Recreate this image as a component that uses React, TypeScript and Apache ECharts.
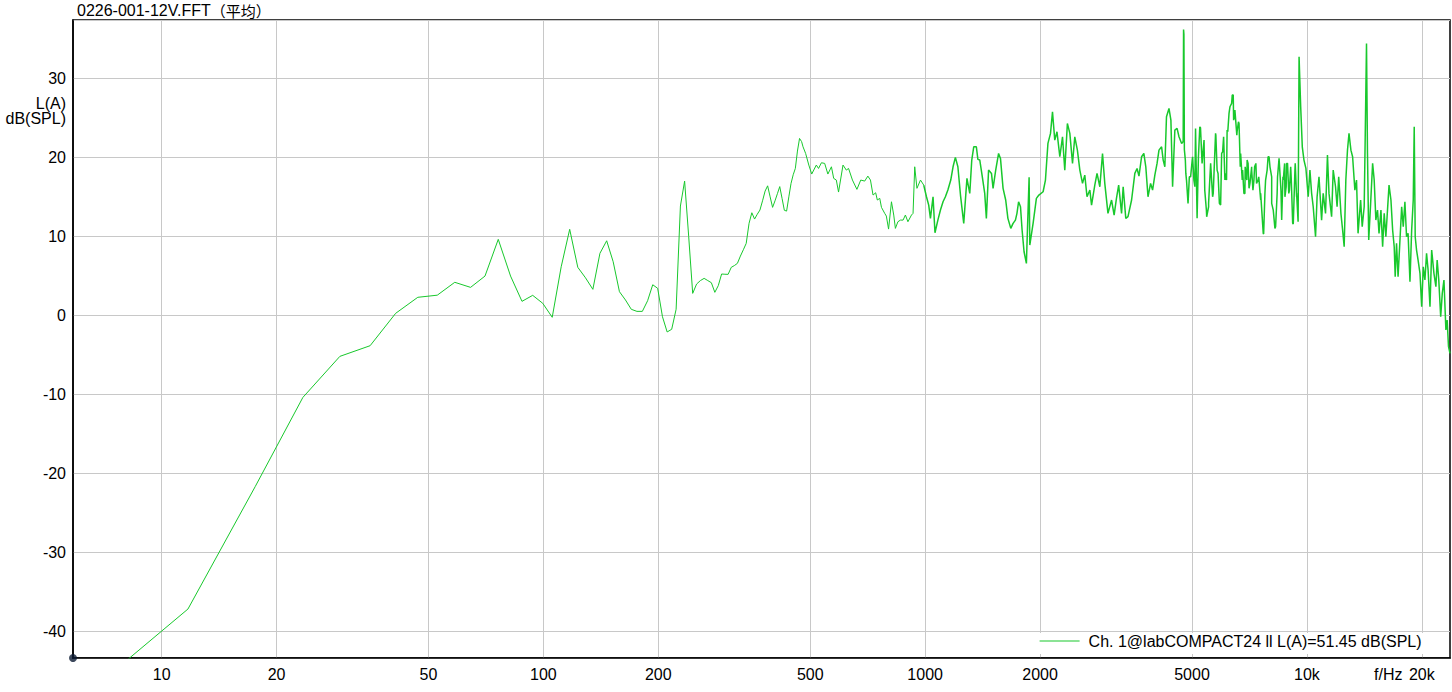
import React, { useEffect, useRef } from 'react';
import * as echarts from 'echarts';

const TITLE_MAIN = '0226-001-12V.FFT';
const TITLE_SUFFIX = '（平均）';
const SERIES_NAME = 'Ch. 1@labCOMPACT24 ll L(A)=51.45 dB(SPL)';
const Y_NAME = 'L(A)\ndB(SPL)';
const X_NAME = 'f/Hz';

const X_MIN = 5.859;
const X_MAX = 23703;
const Y_MIN = -43.4;
const Y_MAX = 37.4;

const xTickValues = [10, 20, 50, 100, 200, 500, 1000, 2000, 5000, 10000, 20000];
const xTickLabels = ['10', '20', '50', '100', '200', '500', '1000', '2000', '5000', '10k', '20k'];

// FFT bins below ~475 Hz
const lowFreqs = [5.86, 11.72, 17.58, 23.44, 29.3, 35.16, 41.02, 46.88, 52.73, 58.59, 64.45, 70.31, 76.17, 82.03, 87.89, 93.75, 99.61, 105.47, 111.33, 117.19, 123.05, 128.91, 134.77, 140.63, 146.48, 152.34, 158.2, 164.06, 169.92, 175.78, 181.64, 187.5, 193.36, 199.22, 205.08, 210.94, 216.8, 222.66, 228.52, 234.38, 240.23, 246.09, 251.95, 257.81, 263.67, 269.53, 275.39, 281.25, 287.11, 292.97, 298.83, 304.69, 310.55, 316.41, 322.27, 328.13, 333.98, 339.84, 345.7, 351.56, 357.42, 363.28, 369.14, 375.0, 380.86, 386.72, 392.58, 398.44, 404.3, 410.16, 416.02, 421.88, 427.73, 433.59, 439.45, 445.31, 451.17, 457.03, 462.89, 468.75, 474.61];
const lowLevels = [-49.4, -37.2, -21.7, -10.4, -5.2, -3.85, 0.25, 2.28, 2.55, 4.18, 3.54, 4.97, 9.62, 4.97, 1.77, 2.53, 1.52, -0.25, 6.15, 10.89, 6.08, 4.75, 3.29, 7.85, 9.44, 6.78, 2.99, 1.94, 0.76, 0.5, 0.5, 1.85, 3.87, 3.42, -0.18, -2.11, -1.77, 0.76, 13.84, 17.0, 9.95, 2.78, 3.96, 4.4, 4.68, 4.4, 4.13, 2.91, 3.75, 5.23, 5.2, 5.19, 6.08, 6.3, 6.58, 7.5, 8.3, 9.11, 11.65, 12.99, 12.19, 12.8, 13.33, 14.5, 15.73, 16.4, 15.0, 13.67, 14.5, 15.4, 16.3, 14.8, 13.3, 13.2, 15.0, 16.7, 17.8, 18.6, 20.8, 22.4, 22.0];

// 475 Hz – 1 kHz
const midFreqs = [478.7, 486.3, 495.7, 504.5, 518.7, 525.7, 534.9, 545.5, 556.1, 568.2, 576.0, 585.2, 593.1, 609.3, 621.6, 630.0, 645.0, 662.6, 678.1, 694.4, 707.8, 719.0, 730.3, 742.0, 749.4, 760.5, 768.3, 783.5, 791.3, 802.0, 816.1, 827.4, 835.7, 848.4, 861.7, 875.3, 887.7, 901.2, 920.8, 929.6, 939.0, 951.7, 972.2, 991.5];
const midLevels = [21.34, 20.5, 19.03, 17.89, 19.03, 18.6, 19.32, 19.24, 17.89, 18.81, 17.34, 17.13, 15.61, 19.03, 18.39, 18.6, 17.13, 15.95, 17.13, 17.0, 17.63, 17.13, 15.23, 15.52, 14.6, 14.81, 13.67, 12.91, 12.57, 10.92, 14.38, 12.7, 11.01, 11.85, 12.06, 12.06, 12.7, 11.85, 12.7, 12.91, 18.81, 16.08, 17.13, 16.49];

// 1 kHz – 5 kHz
const upperFreqs = [1007.9, 1021.7, 1032.4, 1048.7, 1061.1, 1079.7, 1096.7, 1113.9, 1129.8, 1146.9, 1167.0, 1183.2, 1200.0, 1218.2, 1237.4, 1262.0, 1286.7, 1308.8, 1324.6, 1340.5, 1361.8, 1374.5, 1390.2, 1409.5, 1432.3, 1446.5, 1466.0, 1491.9, 1506.2, 1530.3, 1557.2, 1575.1, 1599.9, 1625.4, 1647.2, 1676.1, 1699.4, 1723.6, 1739.7, 1756.9, 1777.2, 1794.4, 1815.8, 1841.5, 1872.0, 1879.9, 1917.5, 1956.0, 1985.8, 2036.8, 2065.8, 2097.1, 2129.9, 2155.6, 2185.3, 2214.7, 2253.1, 2289.8, 2321.4, 2358.1, 2393.3, 2432.3, 2465.8, 2504.8, 2542.1, 2583.5, 2619.1, 2654.5, 2700.3, 2728.1, 2782.1, 2819.7, 2868.0, 2914.7, 2954.9, 3012.0, 3078.2, 3126.0, 3170.2, 3212.9, 3269.7, 3301.1, 3353.9, 3398.9, 3473.2, 3542.0, 3589.8, 3631.3, 3689.2, 3740.0, 3784.1, 3834.9, 3895.1, 3942.0, 3996.3, 4050.2, 4097.2, 4162.4, 4202.4, 4244.8, 4286.9, 4352.0, 4402.7, 4447.7, 4509.0, 4569.8, 4622.8, 4696.5, 4741.6, 4752, 4762, 4775, 4803.4, 4836.9, 4882.0, 4958.6];
const upperLevels = [15.01, 13.96, 12.28, 15.01, 10.46, 12.06, 13.33, 14.38, 15.01, 15.86, 17.13, 18.81, 20.0, 18.81, 15.23, 11.65, 17.34, 15.44, 19.66, 21.34, 21.34, 19.75, 19.66, 17.76, 15.44, 12.28, 18.39, 17.97, 16.08, 18.39, 20.5, 19.87, 16.08, 14.6, 12.28, 11.01, 11.65, 12.06, 12.91, 14.38, 13.75, 10.8, 8.05, 6.58, 17.47, 8.9, 11.65, 14.81, 15.23, 15.65, 17.13, 21.77, 23.04, 25.77, 22.19, 23.24, 20.08, 22.61, 18.39, 24.3, 23.04, 19.24, 22.61, 20.92, 18.39, 16.71, 17.76, 15.01, 15.86, 13.96, 16.49, 17.97, 16.28, 20.5, 16.71, 12.91, 14.6, 12.7, 14.81, 16.49, 12.91, 16.28, 12.28, 12.5, 14.6, 17.97, 18.6, 17.63, 20.08, 20.5, 18.81, 15.01, 16.71, 15.86, 17.76, 19.24, 20.92, 21.34, 19.66, 18.81, 25.14, 26.2, 24.72, 16.28, 23.46, 23.67, 22.61, 21.77, 22.0, 36.2, 35.6, 21.0, 19.66, 17.13, 14.18, 17.54];

// 5 kHz – 24 kHz
const topFreqs = [5018.4, 5087.5, 5156.2, 5241, 5313.9, 5377.3, 5453.3, 5526.6, 5595.0, 5683, 5773.7, 5851.2, 5943.0, 6014.6, 6097.4, 6179.7, 6251.3, 6351.1, 6412.0, 6476.8, 6564.2, 6640.2, 6705.3, 6786.0, 6879.5, 6972.3, 7053.1, 7165.8, 7264.3, 7350.2, 7448.8, 7565.6, 7684.7, 7762.3, 7867.0, 7958.2, 8085.1, 8162.8, 8278.8, 8356.4, 8453.3, 8588.2, 8670.6, 8758.2, 8844.9, 8963.9, 9067.4, 9176.7, 9303.1, 9395.2, 9482.8, 9537.9, 9631.6, 9724.6, 9823.4, 9939.5, 10079, 10183, 10288, 10387, 10534, 10633, 10756, 10926, 11031, 11188, 11319, 11424, 11606, 11718, 11884, 11996, 12114, 12276, 12402, 12520, 12646, 12772, 12890, 13040, 13173, 13355, 13487, 13613, 13826, 13959, 14126, 14210, 14325, 14410, 14518, 14686, 14863, 15005, 15156, 15307, 15448, 15628, 15788, 15939, 16099, 16259, 16410, 16600, 16770, 16930, 17031, 17169, 17329, 17528, 17709, 17879, 18059, 18238, 18408, 18618, 18810, 18990, 19102, 19216, 19372, 19553, 19777, 19981, 20173, 20376, 20578, 20770, 21007, 21223, 21515, 21770, 21936, 22152, 22408, 22624, 22854, 23124, 23300, 23490, 23703];
const topLevels = [20.08, 16.28, 12.28, 23.87, 19.24, 22.19, 13.33, 13.75, 19.24, 15.44, 22.82, 17.97, 13.96, 20.71, 17.13, 23.46, 25.57, 26.84, 27.89, 25.35, 23.3, 24.3, 20.5, 18.39, 15.44, 19.66, 16.08, 18.81, 17.13, 19.24, 17.13, 14.6, 10.38, 15.44, 18.39, 20.08, 17.54, 13.33, 11.22, 15.44, 19.87, 12.06, 17.13, 15.01, 19.24, 15.44, 18.81, 11.65, 18.39, 15.01, 11.85, 32.73, 26.4, 21.34, 19.66, 18.6, 15.01, 18.39, 15.44, 13.75, 9.95, 15.01, 17.54, 12.06, 15.44, 12.91, 20.29, 15.44, 12.48, 18.39, 16.28, 13.75, 17.54, 12.91, 10.8, 8.68, 17.13, 20.92, 23.04, 20.92, 20.08, 15.86, 17.13, 10.38, 14.6, 11.22, 13.75, 22.19, 34.43, 20.5, 9.53, 14.18, 19.24, 17.13, 12.06, 13.33, 10.38, 13.33, 8.68, 12.91, 9.95, 13.33, 16.49, 14.6, 10.8, 8.68, 4.89, 9.11, 4.89, 9.53, 13.75, 11.22, 14.38, 9.95, 10.38, 4.25, 10.8, 14.6, 23.87, 9.95, 8.27, 7.0, 5.32, 1.09, 6.15, 4.47, 7.85, 5.73, 1.09, 8.27, 5.32, 3.62, 7.0, 4.47, -0.18, 2.78, 4.47, -1.86, -0.6, -3.97, -4.81];

// second, finer reading of the dense 4.8 – 9.5 kHz band
const denseFreqs = [4817.4, 4882, 4921, 5006.6, 5057.4, 5108.3, 5156.2, 5197.7, 5263, 5313.9, 5358.4, 5399.8, 5463.2, 5526.6, 5605, 5662.3, 5763.7, 5817.8, 5898.6, 5979, 6050.7, 6097.4, 6157.8, 6204.5, 6286.3, 6373.7, 6427.1, 6476.8, 6552.8, 6617, 6689.2, 6770, 6838.8, 6891.5, 6960.3, 7012.4, 7092.7, 7165.8, 7221.8, 7294.1, 7380, 7479.3, 7565.6, 7702.8, 7793.9, 7912.2, 8002.7, 8085.1, 8245.2, 8375.6, 8453.3, 8551.6, 8655.3, 8742, 8824.5, 8896.7, 8999.6, 9100.8, 9210.1, 9319.4, 9395.2, 9482.8];
const denseLevels = [17.97, 14.18, 17.54, 19.66, 17.13, 23.67, 12.28, 20.08, 23.75, 19.24, 21.34, 15.86, 12.48, 14.18, 19.24, 15.01, 23.04, 18.39, 14.18, 20.5, 22.61, 17.97, 17.13, 23.24, 26.41, 27.89, 24.72, 25.99, 22.82, 24.51, 18.81, 17.13, 15.44, 18.81, 17.13, 19.24, 16.71, 18.39, 15.86, 18.81, 16.71, 17.54, 15.44, 10.29, 17.13, 20.08, 18.81, 14.18, 11.01, 17.54, 19.87, 15.86, 17.54, 19.24, 16.28, 19.24, 15.86, 17.13, 11.56, 19.24, 15.44, 11.85];

const GREEN = '#18c82c';
const GRID_COLOR = '#c8c8c8';
const FONT = '"Liberation Sans", Arial, "Noto Sans CJK SC", sans-serif';
const CJK_FONT = '"Noto Sans CJK SC", sans-serif';

const pairs = (f: number[], v: number[]) => f.map((x, i) => [x, v[i]]);

export default function App() {
  const ref = useRef<HTMLDivElement>(null);

  useEffect(() => {
    if (!ref.current) return;
    const chart = echarts.init(ref.current, undefined, { renderer: 'svg' });

    const lowData = [...pairs(lowFreqs, lowLevels), ...pairs(midFreqs, midLevels)];
    const lastMid = [midFreqs[midFreqs.length - 1], midLevels[midLevels.length - 1]];
    const highData = [
      lastMid,
      ...[...pairs(upperFreqs, upperLevels), ...pairs(topFreqs, topLevels), ...pairs(denseFreqs, denseLevels)].sort(
        (a, b) => a[0] - b[0]
      ),
    ];

    const option: any = {
      animation: false,
      grid: {
        left: 73,
        right: 2,
        top: 20,
        bottom: 34,
        show: true,
        borderColor: '#000',
        borderWidth: 1.5,
        backgroundColor: 'transparent',
      },
      xAxis: {
        type: 'log',
        logBase: 10,
        min: X_MIN,
        max: X_MAX,
        z: 6,
        axisLine: { show: true, onZero: false, lineStyle: { color: '#000', width: 1.5 } },
        axisTick: { show: false },
        axisLabel: { show: false },
        splitLine: { show: false },
        minorSplitLine: { show: false },
      },
      yAxis: {
        type: 'value',
        min: Y_MIN,
        max: Y_MAX,
        splitNumber: 8,
        z: 6,
        axisLine: { show: true, onZero: false, lineStyle: { color: '#000', width: 1.5 } },
        axisTick: { show: false },
        axisLabel: {
          color: '#000',
          fontSize: 16,
          fontFamily: FONT,
          margin: 7,
          showMinLabel: false,
          showMaxLabel: false,
        },
        splitLine: { show: true, lineStyle: { color: GRID_COLOR, width: 1 } },
      },
      legend: {
        data: [SERIES_NAME],
        left: 1034,
        top: 633,
        padding: [0, 6, 5, 5],
        backgroundColor: '#fff',
        itemWidth: 40,
        itemHeight: 14,
        selectedMode: false,
        z: 20,
        itemStyle: { opacity: 0 },
        lineStyle: { color: GREEN, width: 1.2 },
        textStyle: { color: '#000', fontSize: 16, fontFamily: FONT, padding: [0, 0, 0, 4] },
      },
      graphic: [
        {
          type: 'text',
          x: 77,
          y: 10.5,
          z: 30,
          style: {
            text: `{a|${TITLE_MAIN}}{b|${TITLE_SUFFIX}}`,
            rich: {
              a: { fontFamily: FONT, fontSize: 16, lineHeight: 16, fill: '#000', color: '#000' },
              b: { fontFamily: CJK_FONT, fontSize: 15, lineHeight: 16, fill: '#000', color: '#000' },
            },
            font: `16px ${FONT}`,
            lineHeight: 16,
            fill: '#000',
            align: 'left',
            verticalAlign: 'middle',
            textAlign: 'left',
            textVerticalAlign: 'middle',
          },
        },
        {
          type: 'text',
          x: 66,
          y: 96,
          z: 30,
          style: { text: Y_NAME, font: `16px ${FONT}`, fill: '#000', lineHeight: 15, align: 'right', verticalAlign: 'top', textAlign: 'right', textVerticalAlign: 'top' },
        },
        {
          type: 'text',
          x: 1374,
          y: 674,
          z: 30,
          style: { text: X_NAME, font: `16px ${FONT}`, fill: '#000', align: 'left', verticalAlign: 'middle', textAlign: 'left', textVerticalAlign: 'middle' },
        },
      ],
      series: [
        {
          type: 'line',
          name: SERIES_NAME,
          data: lowData,
          showSymbol: false,
          symbol: 'none',
          clip: true,
          z: 10,
          lineStyle: { color: GREEN, width: 1 },
          itemStyle: { color: GREEN },
          emphasis: { disabled: true },
        },
        {
          type: 'line',
          name: SERIES_NAME,
          data: highData,
          showSymbol: false,
          symbol: 'none',
          clip: true,
          z: 10,
          lineStyle: { color: GREEN, width: 1.5 },
          itemStyle: { color: GREEN },
          emphasis: { disabled: true },
        },
        {
          type: 'scatter',
          name: 'origin',
          data: [[X_MIN, Y_MIN]],
          symbolSize: 8,
          clip: false,
          silent: true,
          z: 20,
          itemStyle: { color: '#0b1a33' },
          markLine: {
            silent: true,
            animation: false,
            symbol: ['none', 'none'],
            lineStyle: { color: GRID_COLOR, width: 1, type: 'solid' },
            emphasis: { disabled: true },
            label: {
              show: true,
              position: 'start',
              distance: 8,
              formatter: '{b}',
              color: '#000',
              fontSize: 16,
              fontFamily: FONT,
            },
            data: xTickValues.map((v, i) => ({ xAxis: v, name: xTickLabels[i] })),
          },
        },
      ],
    };

    chart.setOption(option);
    return () => chart.dispose();
  }, []);

  return (
    <div
      ref={ref}
      style={{ position: 'fixed', left: 0, top: 0, width: 1452, height: 692, background: '#fff' }}
    />
  );
}
